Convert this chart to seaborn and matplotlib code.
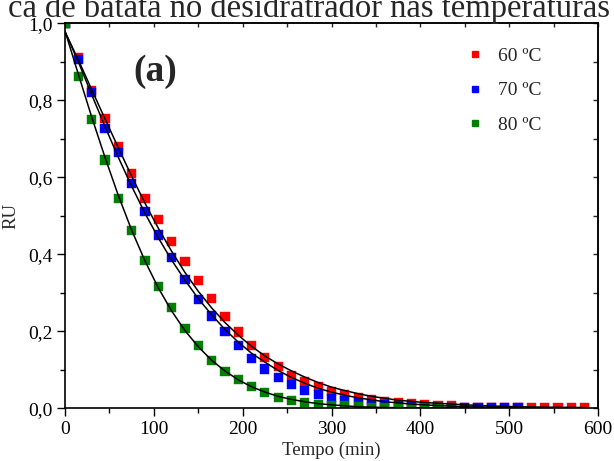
import numpy as np
import pandas as pd
import matplotlib
matplotlib.use("Agg")
import matplotlib.pyplot as plt
from matplotlib.ticker import MultipleLocator, FuncFormatter
from matplotlib.lines import Line2D
import seaborn as sns

# ---------------- data ----------------
labels = ["60 ºC", "70 ºC", "80 ºC"]

t60 = [0, 15, 30, 45, 60, 75, 90, 105, 120, 135, 150, 165, 180, 195, 210, 225, 240, 255, 270, 285,
       300, 315, 330, 345, 360, 375, 390, 405, 420, 435, 450, 465, 480, 495, 510, 525, 540, 555, 570, 585]
ru60 = [1.0, 0.910, 0.826, 0.753, 0.680, 0.610, 0.545, 0.490, 0.433, 0.381, 0.332, 0.285, 0.239, 0.198,
        0.163, 0.131, 0.108, 0.085, 0.069, 0.056, 0.044, 0.035, 0.029, 0.022, 0.018, 0.015, 0.012, 0.009,
        0.007, 0.006, 0.003, 0.003, 0.003, 0.003, 0.003, 0.001, 0.001, 0.001, 0.001, 0.001]

t70 = [0, 15, 30, 45, 60, 75, 90, 105, 120, 135, 150, 165, 180, 195, 210, 225, 240, 255, 270, 285,
       300, 315, 330, 345, 360, 375, 390, 405, 420, 435, 450, 465, 480, 495, 510]
ru70 = [1.0, 0.906, 0.820, 0.727, 0.664, 0.584, 0.512, 0.450, 0.391, 0.335, 0.282, 0.240, 0.200, 0.164,
        0.130, 0.102, 0.080, 0.061, 0.046, 0.035, 0.026, 0.020, 0.015, 0.011, 0.009, 0.007, 0.005, 0.003,
        0.003, 0.002, 0.001, 0.001, 0.001, 0.001, 0.001]

t80 = [0, 15, 30, 45, 60, 75, 90, 105, 120, 135, 150, 165, 180, 195, 210, 225, 240, 255, 270, 285,
       300, 315, 330, 345, 360, 375, 390, 405, 420, 435]
ru80 = [1.0, 0.862, 0.750, 0.645, 0.545, 0.461, 0.383, 0.316, 0.261, 0.208, 0.163, 0.125, 0.095, 0.074,
        0.056, 0.041, 0.029, 0.020, 0.015, 0.010, 0.008, 0.006, 0.004, 0.003, 0.003, 0.003, 0.002, 0.002,
        0.001, 0.001]

# fitted model curves
tc60 = [0, 15, 30, 45, 60, 75, 90, 105, 120, 135, 150, 165, 180, 195, 210, 225, 240, 255, 270, 285,
        300, 315, 330, 345, 360, 375, 390, 405, 420, 450, 480, 510, 540, 585]
fc60 = [0.978, 0.905, 0.828, 0.752, 0.677, 0.603, 0.533, 0.468, 0.408, 0.353, 0.304, 0.261, 0.223, 0.190,
        0.161, 0.136, 0.115, 0.097, 0.081, 0.067, 0.055, 0.046, 0.038, 0.031, 0.026, 0.021, 0.018, 0.015,
        0.013, 0.009, 0.006, 0.004, 0.003, 0.002]

tc70 = [0, 15, 30, 45, 60, 75, 90, 105, 120, 135, 150, 165, 180, 195, 210, 225, 240, 255, 270, 285,
        300, 315, 330, 345, 360, 375, 390, 420, 450, 480, 510]
fc70 = [0.978, 0.900, 0.815, 0.732, 0.652, 0.577, 0.507, 0.443, 0.385, 0.333, 0.285, 0.243, 0.205, 0.172,
        0.143, 0.120, 0.098, 0.080, 0.065, 0.052, 0.042, 0.034, 0.027, 0.022, 0.017, 0.014, 0.011, 0.007,
        0.004, 0.003, 0.002]

tc80 = [0, 15, 30, 45, 60, 75, 90, 105, 120, 135, 150, 165, 180, 195, 210, 225, 240, 255, 270, 285,
        300, 330, 360, 390, 435]
fc80 = [0.980, 0.868, 0.757, 0.652, 0.553, 0.463, 0.383, 0.313, 0.253, 0.202, 0.160, 0.125, 0.097, 0.074,
        0.056, 0.042, 0.031, 0.023, 0.017, 0.012, 0.009, 0.004, 0.002, 0.001, 0.0005]

colors = ["#ff0000", "#0000ff", "#008000"]
title_text = "ca de batata no desidratrador nas temperaturas"

# ---------------- tables ----------------
pts = pd.concat([
    pd.DataFrame({"t": t60, "RU": ru60, "T": labels[0]}),
    pd.DataFrame({"t": t70, "RU": ru70, "T": labels[1]}),
    pd.DataFrame({"t": t80, "RU": ru80, "T": labels[2]}),
], ignore_index=True)
fits = pd.concat([
    pd.DataFrame({"t": tc60, "RU": fc60, "T": labels[0]}),
    pd.DataFrame({"t": tc70, "RU": fc70, "T": labels[1]}),
    pd.DataFrame({"t": tc80, "RU": fc80, "T": labels[2]}),
], ignore_index=True)

# ---------------- style ----------------
sns.set_style("ticks")
plt.rcParams["font.family"] = ["Liberation Serif", "DejaVu Serif"]

fig = plt.figure(figsize=(6.14, 4.61), dpi=100)
ax = fig.add_axes([65 / 614, 52.7 / 461, 533 / 614, 385 / 461])

sns.scatterplot(data=pts, x="t", y="RU", hue="T", hue_order=labels, palette=colors,
                marker="s", s=44, edgecolor="face", linewidth=0.3, ax=ax, legend=False,
                zorder=2, clip_on=True)
sns.lineplot(data=fits, x="t", y="RU", units="T", estimator=None, color="black",
             linewidth=1.1, ax=ax, legend=False, zorder=3, sort=True)

ax.set_xlim(0, 600)
ax.set_ylim(0, 1.0)

ax.xaxis.set_major_locator(MultipleLocator(100))
ax.xaxis.set_minor_locator(MultipleLocator(50))
ax.yaxis.set_major_locator(MultipleLocator(0.2))
ax.yaxis.set_minor_locator(MultipleLocator(0.1))
ax.yaxis.set_major_formatter(FuncFormatter(lambda v, p: f"{v:.1f}".replace(".", ",")))

for s in ax.spines.values():
    s.set_linewidth(1.2)
    s.set_color("black")

ax.tick_params(axis="both", which="both", direction="out", color="black", width=1.0,
               labelsize=14, labelcolor="black")
ax.tick_params(which="major", length=6)
ax.tick_params(which="minor", length=3.5)
ax.tick_params(axis="x", pad=3)
ax.tick_params(axis="y", pad=3)

# inward ticks on top and right
top = ax.secondary_xaxis("top")
top.xaxis.set_major_locator(MultipleLocator(50))
top.tick_params(direction="in", length=3, width=1.0, labeltop=False)
top.spines["top"].set_linewidth(1.2)
right = ax.secondary_yaxis("right")
right.yaxis.set_major_locator(MultipleLocator(0.1))
right.tick_params(direction="in", length=3.5, width=1.0, labelright=False)
right.spines["right"].set_linewidth(1.2)

ax.set_xlabel("Tempo (min)", fontsize=13.5, labelpad=3)
ax.set_ylabel("RU", fontsize=13.5, labelpad=6)

ax.text(0.169, 0.876, "(a)", transform=ax.transAxes, fontsize=27, fontweight="bold",
        ha="center", va="center")

handles = [Line2D([], [], linestyle="none", marker="s", markersize=4.5,
                  markerfacecolor=c, markeredgecolor=c) for c in colors]
ax.legend(handles, labels, loc="upper left", bbox_to_anchor=(0.736, 0.962),
          frameon=False, fontsize=14, handlelength=0.8, handletextpad=0.8,
          labelspacing=0.85, borderpad=0)

fig.text(610 / 614, 1 - 17 / 461, title_text, ha="right", va="baseline", fontsize=23.5)

fig.savefig("out.png", dpi=100)
